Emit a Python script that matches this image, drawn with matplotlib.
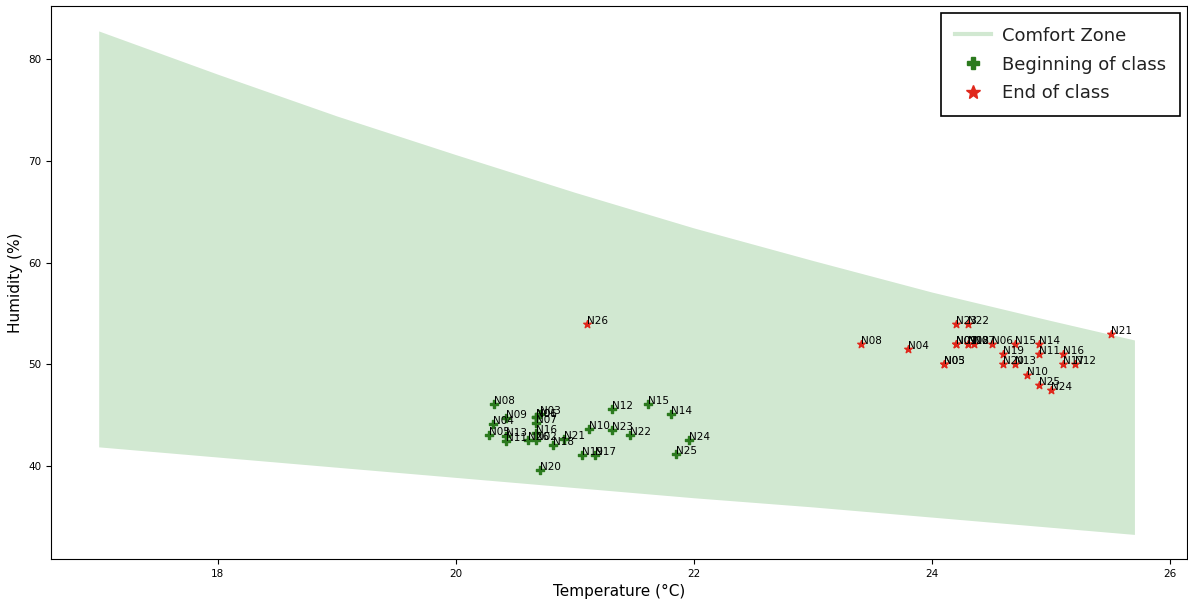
import numpy as np
import matplotlib
matplotlib.use("Agg")
import matplotlib.pyplot as plt
from matplotlib.lines import Line2D

# comfort zone boundary (temperature, lower / upper humidity)
zone_temp = [17.0, 18.0, 19.0, 20.0, 21.0, 22.0, 23.0, 24.0, 25.0, 25.7]
zone_low = [41.9, 40.9, 39.9, 38.9, 37.9, 36.9, 36.0, 35.0, 34.0, 33.3]
zone_high = [82.75, 78.5, 74.4, 70.6, 66.9, 63.4, 60.2, 57.1, 54.3, 52.4]

# beginning of class readings
begin_names = ["N01", "N02", "N03", "N04", "N05", "N06", "N07", "N08", "N09", "N10",
               "N11", "N12", "N13", "N14", "N15", "N16", "N17", "N18", "N19", "N20",
               "N21", "N22", "N23", "N24", "N25", "N26"]
begin_temp = [20.67, 20.67, 20.71, 20.31, 20.28, 20.67, 20.67, 20.32, 20.42, 21.12,
              20.42, 21.31, 20.42, 21.81, 21.61, 20.67, 21.17, 20.82, 21.06, 20.71,
              20.91, 21.46, 21.31, 21.96, 21.85, 20.61]
begin_hum = [44.8, 42.55, 45.1, 44.1, 43.1, 44.8, 44.2, 46.1, 44.7, 43.7,
             42.5, 45.6, 43.0, 45.1, 46.1, 43.3, 41.1, 42.06, 41.1, 39.6,
             42.7, 43.1, 43.6, 42.55, 41.2, 42.6]

# end of class readings
end_names = begin_names
end_temp = [24.2, 24.3, 24.1, 23.8, 24.1, 24.5, 24.35, 23.4, 24.2, 24.8,
            24.9, 25.2, 24.7, 24.9, 24.7, 25.1, 25.1, 24.3, 24.6, 24.6,
            25.5, 24.3, 24.2, 25.0, 24.9, 21.1]
end_hum = [52.0, 52.0, 50.0, 51.5, 50.0, 52.0, 52.0, 52.0, 52.0, 49.0,
           51.0, 50.0, 50.0, 52.0, 52.0, 51.0, 50.0, 52.0, 51.0, 50.0,
           53.0, 54.0, 54.0, 47.5, 48.0, 54.0]

fig, ax = plt.subplots(figsize=(11.88, 5.99), dpi=100)
fig.subplots_adjust(left=0.043, right=0.999, top=0.99, bottom=0.067)

ax.fill_between(zone_temp, zone_low, zone_high, color="green", alpha=0.18, linewidth=0)

ax.scatter(begin_temp, begin_hum, marker="P", color="#2b7a1e", s=28, zorder=3)
ax.scatter(end_temp, end_hum, marker="*", color="#e0281c", s=32, zorder=3)

for n, t, h in zip(begin_names, begin_temp, begin_hum):
    ax.text(t, h, n, fontsize=7.5)
for n, t, h in zip(end_names, end_temp, end_hum):
    ax.text(t, h, n, fontsize=7.5)

ax.set_xlim(16.6, 26.14)
ax.set_ylim(30.9, 85.2)
ax.tick_params(labelsize=7.5)
ax.set_xlabel("Temperature (°C)", fontsize=11, labelpad=4)
ax.set_ylabel("Humidity (%)", fontsize=11)

handles = [
    Line2D([], [], color="green", alpha=0.18, lw=3),
    Line2D([], [], marker="P", color="#2b7a1e", ls="none", markersize=9),
    Line2D([], [], marker="*", color="#e0281c", ls="none", markersize=10),
]
leg = ax.legend(handles, ["Comfort Zone", "Beginning of class", "End of class"],
                loc="upper right", fontsize=13, fancybox=False, edgecolor="black",
                framealpha=1, borderaxespad=0.4, borderpad=0.75, labelspacing=0.6,
                handletextpad=0.6)
leg.get_frame().set_linewidth(1.2)
for t in leg.get_texts():
    t.set_color("#222222")

fig.savefig("out.png", dpi=100)
